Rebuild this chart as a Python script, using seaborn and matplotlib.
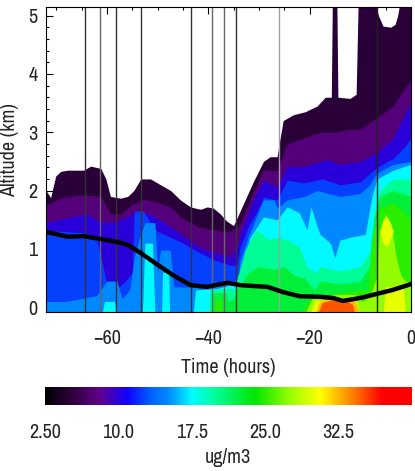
import numpy as np
import matplotlib
matplotlib.use("Agg")
import matplotlib.pyplot as plt
import seaborn as sns
from matplotlib import font_manager
from matplotlib.colors import LinearSegmentedColormap, Normalize
from matplotlib.cm import ScalarMappable
from matplotlib.ticker import MultipleLocator

sns.set_style("ticks")

# prefer a narrow sans face for the labels when one is installed
narrow_name, narrow_stretch = None, "normal"
for f in font_manager.fontManager.ttflist:
    if f.style != "normal" or str(f.weight) not in ("400", "normal", "regular", "book"):
        continue
    if "Narrow" in f.name or "Condensed" in f.name:
        narrow_name, narrow_stretch = f.name, f.stretch
        break
if narrow_name is None:
    for f in font_manager.fontManager.ttflist:
        if f.style == "normal" and f.stretch in ("condensed", "semi-condensed") \
                and str(f.weight) in ("400", "normal", "regular", "book"):
            narrow_name, narrow_stretch = f.name, f.stretch
            break
if narrow_name is not None:
    plt.rcParams["font.family"] = [narrow_name, "DejaVu Sans"]
    plt.rcParams["font.stretch"] = narrow_stretch
    fs = 14.5
else:
    plt.rcParams["font.family"] = ["DejaVu Sans"]
    fs = 12

# ---- colour scale for aerosol mass concentration (ug/m3) ----
scale_values = [2.5, 5.4, 8.1, 10.9, 13.3, 15.3, 17.6, 19.7, 24.0, 27.8, 30.7, 34.0, 37.0, 40.0]
scale_colors = ["#000000", "#300040", "#60008c", "#1000ff", "#0060ff", "#0090ff", "#00ffff",
                "#00ffa0", "#00e600", "#a0ff00", "#ffff00", "#ff8000", "#ff0000", "#ff0000"]
cbar_ticks = [2.5, 10.0, 17.5, 25.0, 32.5]
cbar_ticklabels = ["2.50", "10.0", "17.5", "25.0", "32.5"]

# ---- contour levels and the altitude (km) of each level's upper edge vs time (hours) ----
levels = [5.0, 7.5, 10.0, 12.5, 15.0, 17.5, 20.0, 22.5, 25.0, 27.5, 30.0, 32.5, 35.0]

t_05 = [-72, -71.1, -70.1, -69.1, -67.7, -64.6, -63.2, -61.2, -60.2, -59.3, -57.3, -55.9, -54.7,
        -53.3, -51.4, -50.0, -48.4, -47.4, -45.5, -43.5, -41.5, -40.2, -39.0, -37.6, -36.4, -35.0,
        -33.7, -31.1, -29.1, -27.8, -26.4, -25.8, -25.2, -23.2, -20.9, -18.5, -16.9, -15.7, -15.5,
        -14.6, -14.4, -12.0, -10.8, -10.4, -7.0, -6.4, -5.5, -4.0, -3.1, -2.6, -2.2, 0]
z_05 = [2.0, 1.88, 2.25, 2.33, 2.35, 2.35, 2.42, 2.38, 2.2, 1.9, 1.87, 1.9, 2.0,
        2.2, 2.2, 2.13, 2.05, 2.0, 1.84, 1.72, 1.68, 1.72, 1.70, 1.6, 1.48, 1.40,
        1.65, 2.15, 2.5, 2.58, 2.58, 2.9, 3.2, 3.3, 3.35, 3.45, 3.6, 3.6, 5.2,
        5.2, 3.6, 3.58, 3.65, 5.2, 5.2, 5.0, 4.82, 4.8, 4.85, 5.0, 5.2, 5.2]

t_075 = [-72, -69, -64.6, -61.2, -59.3, -57.3, -55.3, -52.8, -50.0, -47.4, -45.5, -42.0, -38.5,
         -35.6, -33.7, -31.7, -29.1, -26.4, -24.4, -22.0, -18.0, -15.0, -12.0, -10.0, -6.7, -3.5, -1.2, 0]
z_075 = [1.75, 1.88, 1.93, 1.9, 1.6, 1.6, 1.75, 1.85, 1.8, 1.72, 1.55, 1.38, 1.32,
         1.29, 1.44, 1.85, 2.35, 2.35, 2.8, 2.87, 3.0, 3.0, 3.05, 3.05, 3.25, 3.45, 3.75, 3.9]

t_10 = [-72, -64.0, -61.2, -58.3, -54.5, -51.4, -47.4, -44.5, -41.5, -38.2, -35.6, -34.0, -33.7,
        -31.7, -31.1, -29.1, -26.4, -24.4, -21.3, -16.5, -14.0, -10.0, -6.7, -3.5, -1.2, 0]
z_10 = [1.46, 1.6, 1.46, 1.46, 1.62, 1.6, 1.38, 1.2, 1.02, 0.93, 0.86, 1.1, 1.27,
        1.7, 1.84, 2.18, 2.06, 2.41, 2.41, 2.53, 2.45, 2.5, 2.65, 2.9, 3.3, 3.5]

t_125 = [-72, -69, -65, -62.2, -61.0, -60.0, -58.3, -56.3, -55.0, -54.6, -52.8, -51.4, -50.0,
         -47.4, -45.0, -42.0, -38.5, -35.6, -34.3, -33.7, -32.0, -30.5, -29.1, -26.4, -24.4,
         -21.3, -17.5, -14.0, -10.0, -6.7, -3.5, -1.2, 0]
z_125 = [1.32, 1.3, 1.28, 1.22, 0.8, 0.4, 0.3, 0.45, 0.6, 1.65, 1.65, 1.45, 1.3,
         1.2, 1.1, 0.95, 0.8, 0.72, 0.72, 1.03, 1.4, 1.62, 1.89, 1.84, 2.18,
         2.13, 2.2, 2.1, 2.15, 2.4, 2.55, 2.75, 2.9]

t_15 = [-72, -68, -65, -62, -60, -58, -57, -55.5, -54.5, -53.5, -52.5, -50.5, -50.0, -49.4,
        -47.5, -46.8, -45.5, -42.0, -38.0, -35.0, -34.0, -33.7, -31.7, -29.1, -27.0, -26.4,
        -24.4, -21.0, -18.5, -14.0, -10.0, -8.1, -6.7, -3.5, 0]
z_15 = [0.1, 0.1, 0.15, 0.2, 0.45, 0.45, 0.15, 0.3, 0.9, 1.2, 1.45, 1.45, 0.6, 0.98,
        0.98, 0.35, 0.35, 0.35, 0.38, 0.4, 0.6, 0.81, 1.3, 1.84, 1.84, 1.7,
        1.84, 1.9, 2.0, 1.9, 1.95, 2.1, 2.3, 2.45, 2.5]

t_175 = [-72, -61.0, -60.5, -58.5, -58.0, -53.0, -52.5, -51.0, -50.5, -49.2, -49.0, -47.8, -47.6,
         -43.0, -42.5, -38.5, -37.0, -35.0, -34.0, -33.7, -31.7, -29.1, -26.4, -24.4, -22.0,
         -20.5, -19.7, -18.5, -17.9, -15.9, -15.0, -14.0, -12.0, -9.0, -7.7, -6.7, -3.5, 0]
z_175 = [0, 0, 0.1, 0.1, 0, 0, 1.1, 1.1, 0, 0, 0.6, 0.6, 0,
         0, 0.3, 0.32, 0.35, 0.4, 0.5, 0.64, 1.2, 1.55, 1.5, 1.72, 1.62,
         1.33, 1.72, 1.38, 1.25, 1.1, 0.85, 1.15, 1.2, 1.25, 1.9, 2.2, 2.35, 2.45]

t_20 = [-72, -40.0, -39.6, -35.5, -35.0, -34.3, -32.7, -30.5, -28.0, -26.4, -24.4, -22.0,
        -20.5, -18.5, -17.9, -14.0, -10.0, -8.1, -7.3, -6.1, -3.5, 0]
z_20 = [0, 0, 0.3, 0.33, 0.3, 0.47, 0.98, 1.33, 1.16, 1.2, 1.16, 1.03,
        0.69, 0.59, 0.7, 0.62, 0.7, 0.95, 1.6, 2.0, 2.2, 2.2]

t_225 = [-72, -39.4, -39.0, -36.5, -36.0, -35.0, -34.3, -32.0, -30.0, -27.0, -25.0, -23.0,
         -21.0, -19.0, -17.9, -14.0, -10.0, -8.1, -7.3, -6.1, -3.5, 0]
z_225 = [0, 0, 0.25, 0.25, 0.1, 0.15, 0.3, 0.6, 0.7, 0.65, 0.7, 0.55,
         0.5, 0.3, 0.45, 0.4, 0.45, 0.7, 1.5, 1.9, 2.0, 1.9]

t_25 = [-72, -38.8, -38.5, -37.5, -37.2, -22.0, -20.0, -17.9, -14.0, -10.0, -8.5, -7.7,
        -6.1, -3.5, -1.0, 0]
z_25 = [0, 0, 0.12, 0.12, 0, 0, 0.13, 0.18, 0.25, 0.3, 0.3, 1.2,
        1.7, 1.8, 1.6, 1.5]

t_275 = [-72, -21.0, -19.5, -15.0, -11.0, -9.5, -8.0, -6.8, -6.2, -5.0, -3.8, -3.0, -2.0, -1.0, 0]
z_275 = [0, 0, 0.15, 0.22, 0.22, 0.1, 0.2, 0.5, 1.3, 1.6, 1.4, 0.9, 0.55, 0.45, 0.4]

t_30 = [-72, -20.0, -19.0, -11.0, -10.0, -5.5, -5.0, -1.5, -1.0, 0]
z_30 = [0, 0, 0.12, 0.15, 0, 0, 0.35, 0.35, 0, 0]

t_325 = [-72, -19.0, -18.0, -15.5, -13.0, -11.0, -10.0, 0]
z_325 = [0, 0, 0.1, 0.18, 0.15, 0.1, 0, 0]

t_35 = [-72, -18.5, -17.5, -15.5, -13.0, -11.5, -11.0, 0]
z_35 = [0, 0, 0.08, 0.13, 0.12, 0.05, 0, 0]

# pocket of 30-32.5 ug/m3 aloft in the last hours
pocket_t = [-6.1, -5.5, -4.7, -4.1, -3.5]
pocket_lo = [1.28, 1.1, 1.05, 1.15, 1.3]
pocket_hi = [1.3, 1.5, 1.55, 1.45, 1.32]

# ---- boundary-layer height (km) ----
bl_t = [-71.9, -67.7, -64.6, -61.2, -57.9, -55.9, -53.3, -50.0, -46.9, -43.5, -40.2, -36.2,
        -33.7, -28.3, -25.2, -21.9, -17.9, -15.4, -13.4, -10.0, -6.7, -3.5, -0.6, 0]
bl_z = [1.29, 1.21, 1.22, 1.17, 1.12, 1.07, 0.93, 0.73, 0.55, 0.38, 0.35, 0.42,
        0.38, 0.35, 0.26, 0.19, 0.18, 0.16, 0.11, 0.16, 0.23, 0.30, 0.38, 0.40]

# ---- aircraft profile times (hours) ----
profile_times = [-64.4, -61.4, -58.1, -53.3, -43.3, -39.2, -36.8, -34.6, -26.0, -6.7]
profile_shades = ["#333333", "#666666", "#333333", "#333333", "#333333", "#666666",
                  "#666666", "#333333", "#a0a0a0", "#202020"]

t_min, t_max = -72, 0
z_min, z_max = -0.08, 5.15

cmap = LinearSegmentedColormap.from_list(
    "conc", [((v - scale_values[0]) / (scale_values[-1] - scale_values[0]), c)
             for v, c in zip(scale_values, scale_colors)])
norm = Normalize(scale_values[0], scale_values[-1])

fig = plt.figure(figsize=(4.15, 4.71), dpi=100)
ax = fig.add_axes([0.111, 0.3376, 0.879, 0.648])

bands = [(t_05, z_05), (t_075, z_075), (t_10, z_10), (t_125, z_125), (t_15, z_15),
         (t_175, z_175), (t_20, z_20), (t_225, z_225), (t_25, z_25), (t_275, z_275),
         (t_30, z_30), (t_325, z_325), (t_35, z_35)]
floor = z_min - 0.05
for lev, (bt, bz) in zip(levels, bands):
    bz = np.asarray(bz, dtype=float)
    top = np.where(bz > 0, bz, floor)
    ax.fill_between(bt, floor, top, color=cmap(norm(lev)), linewidth=0, zorder=1)
ax.fill_between(pocket_t, pocket_lo, pocket_hi, color=cmap(norm(30.0)), linewidth=0, zorder=1)

for pt, shade in zip(profile_times, profile_shades):
    ax.axvline(pt, color=shade, linewidth=1.0, zorder=2)

sns.lineplot(x=bl_t, y=bl_z, color="black", linewidth=3.2, ax=ax, zorder=3)

ax.set_xlim(t_min, t_max)
ax.set_ylim(z_min, z_max)
ax.set_xticks([-60, -40, -20, 0])
ax.set_yticks([0, 1, 2, 3, 4, 5])
ax.xaxis.set_minor_locator(MultipleLocator(5))
ax.yaxis.set_minor_locator(MultipleLocator(0.2))
ax.tick_params(which="both", direction="in", top=True, right=True, color="black",
               labelsize=fs, width=0.8)
ax.tick_params(which="major", length=5)
ax.tick_params(which="minor", length=2.5)
ax.tick_params(axis="x", pad=12)
ax.tick_params(axis="y", pad=6)
for s in ax.spines.values():
    s.set_color("black")
    s.set_linewidth(0.8)
ax.set_xlabel("Time (hours)", fontsize=fs)
ax.set_ylabel("Altitude (km)", fontsize=fs)
ax.xaxis.set_label_coords(0.5, -0.15)
ax.yaxis.set_label_coords(-0.075, 0.53)

cax = fig.add_axes([0.108, 0.140, 0.884, 0.038])
cb = fig.colorbar(ScalarMappable(norm=norm, cmap=cmap), cax=cax, orientation="horizontal")
cb.set_ticks(cbar_ticks)
cb.set_ticklabels(cbar_ticklabels)
cb.outline.set_visible(False)
cax.tick_params(length=0, labelsize=fs, pad=13)
cax.set_xlabel("ug/m3", fontsize=fs, labelpad=4)

fig.savefig("out.png", dpi=100, facecolor="white")
